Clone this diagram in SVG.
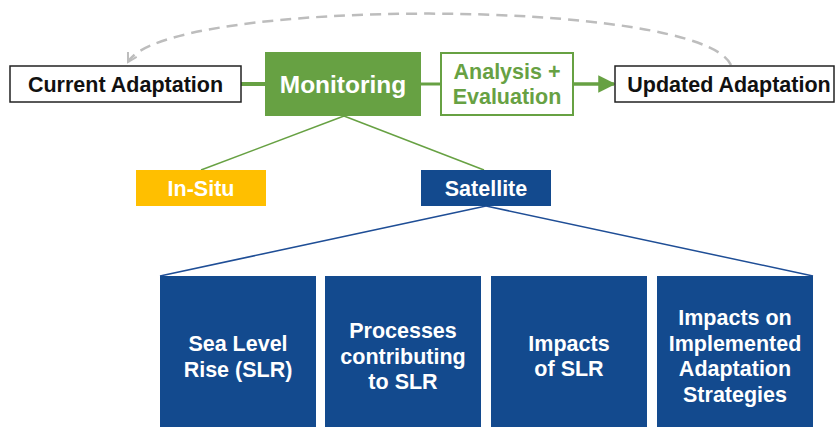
<svg xmlns="http://www.w3.org/2000/svg" width="836" height="427" viewBox="0 0 836 427">
<style>
text{font-family:"Liberation Sans",Arial,Helvetica,sans-serif;font-weight:bold;text-anchor:middle}
.wb{fill:#fff;stroke:#222;stroke-width:1.5}
.bk{fill:#111;font-size:21.5px}
.wt{fill:#fff;font-size:21.5px}
.blue{fill:#134A8E}
.gl{stroke:#67A143;fill:none}
.bl{stroke:#1F4E96;stroke-width:1.5;fill:none}
</style>
<defs>
<marker id="ga" viewBox="0 0 10 10" refX="9" refY="5" markerWidth="5" markerHeight="5" orient="auto" markerUnits="strokeWidth">
<path d="M0,0 L10,5 L0,10 Z" fill="#67A143"/>
</marker>
<marker id="gray" viewBox="0 0 10 10" refX="8" refY="5" markerWidth="5" markerHeight="5" orient="auto" markerUnits="strokeWidth">
<path d="M1,1 L8,5 L1,9" fill="none" stroke="#BDBDBD" stroke-width="1.6"/>
</marker>
</defs>
<g id="connectors">
<path d="M731,65 C700,-3 165,-3 128,62" fill="none" stroke="#BDBDBD" stroke-width="2.5" stroke-dasharray="11,7" marker-end="url(#gray)"/>
<line x1="241" y1="84" x2="265" y2="84" class="gl" stroke-width="4"/>
<line x1="421" y1="84" x2="440" y2="84" class="gl" stroke-width="3"/>
<line x1="573" y1="84" x2="614" y2="84" class="gl" stroke-width="3.5" marker-end="url(#ga)"/>
<line x1="344" y1="116" x2="201" y2="170" class="gl" stroke-width="1.5"/>
<line x1="344" y1="116" x2="484" y2="170" class="gl" stroke-width="1.5"/>
<line x1="486" y1="206" x2="160" y2="276" class="bl"/>
<line x1="486" y1="206" x2="813" y2="276" class="bl"/>
</g>
<g id="current">
<rect x="10" y="66" width="231" height="36" class="wb"/>
<text x="125.5" y="92" class="bk">Current Adaptation</text>
</g>
<g id="monitoring">
<rect x="265" y="52" width="156" height="64" fill="#67A143"/>
<text x="343" y="93" class="wt" style="font-size:24.5px">Monitoring</text>
</g>
<g id="analysis">
<rect x="441" y="53" width="132" height="62" fill="#fff" stroke="#67A143" stroke-width="2"/>
<text x="507" y="79" style="font-size:21.5px;fill:#67A143">Analysis +</text>
<text x="507" y="104" style="font-size:21.5px;fill:#67A143">Evaluation</text>
</g>
<g id="updated">
<rect x="615" y="66" width="219" height="36" class="wb"/>
<text x="729" y="92" class="bk">Updated Adaptation</text>
</g>
<g id="insitu">
<rect x="136" y="170" width="130" height="36" fill="#FFBF00"/>
<text x="201" y="196" class="wt">In-Situ</text>
</g>
<g id="satellite">
<rect x="421" y="170" width="130" height="36" class="blue"/>
<text x="486" y="196" class="wt">Satellite</text>
</g>
<g id="slr">
<rect x="160" y="276" width="156" height="160" class="blue"/>
<text x="238" y="351" class="wt">Sea Level</text>
<text x="238" y="377" class="wt">Rise (SLR)</text>
</g>
<g id="processes">
<rect x="325" y="276" width="156" height="160" class="blue"/>
<text x="403" y="338" class="wt">Processes</text>
<text x="403" y="364" class="wt">contributing</text>
<text x="403" y="389" class="wt">to SLR</text>
</g>
<g id="impacts">
<rect x="491" y="276" width="156" height="160" class="blue"/>
<text x="569" y="351" class="wt">Impacts</text>
<text x="569" y="376" class="wt">of SLR</text>
</g>
<g id="impacts-adaptation">
<rect x="657" y="276" width="156" height="160" class="blue"/>
<text x="735" y="325" class="wt">Impacts on</text>
<text x="735" y="351" class="wt">Implemented</text>
<text x="735" y="376" class="wt">Adaptation</text>
<text x="735" y="402" class="wt">Strategies</text>
</g>
</svg>
